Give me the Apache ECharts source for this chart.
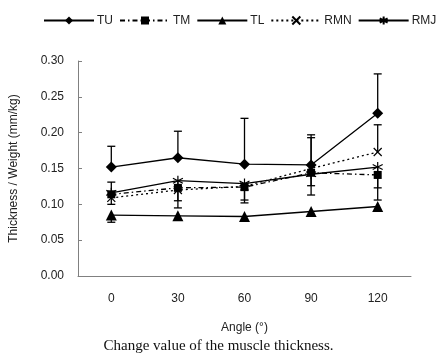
<!DOCTYPE html>
<html>
<head>
<meta charset="utf-8">
<script src="https://cdn.jsdelivr.net/npm/echarts@6/dist/echarts.min.js"></script>
<style>
  html, body { margin: 0; padding: 0; background: #fff; }
  #main { width: 437px; height: 358px; }
</style>
</head>
<body>
<div id="main"></div>
<script>
// 角度分类
var angles = ['0', '30', '60', '90', '120']

// 各肌肉厚度均值
var tuValue = [0.152, 0.165, 0.156, 0.155, 0.227]
var tmValue = [0.114, 0.123, 0.124, 0.144, 0.141]
var tlValue = [0.085, 0.084, 0.083, 0.090, 0.097]
var rmnValue = [0.109, 0.120, 0.125, 0.150, 0.173]
var rmjValue = [0.116, 0.133, 0.129, 0.142, 0.152]

// 误差线端点 (null = 不画)
var tuErrUp = [0.181, 0.202, 0.220, 0.197, 0.282]
var tmErrUp = [0.131, null, null, null, null]
var tmErrDown = [0.100, 0.105, 0.106, 0.113, 0.123]
var rmnErrUp = [null, null, null, 0.193, 0.211]
var rmjErrDown = [null, 0.095, 0.102, 0.126, 0.106]
var tlErrDown = [0.075, null, null, null, null]

var errEnds = []
;[[tuValue, tuErrUp], [tmValue, tmErrUp], [tmValue, tmErrDown], [rmnValue, rmnErrUp], [rmjValue, rmjErrDown], [tlValue, tlErrDown]].forEach(function (pair) {
  for (var i = 0; i < angles.length; i++) {
    if (pair[1][i] != null) errEnds.push([i, pair[0][i], pair[1][i]])
  }
})

var xPath = 'path://M0,0 L10,10 M10,0 L0,10'
var starPath = 'path://M5,0 L5,10 M0,2.5 L10,7.5 M10,2.5 L0,7.5'

var chart = echarts.init(document.getElementById('main'))
var option = {
  animation: false,
  textStyle: { fontFamily: 'Liberation Sans, Arial, sans-serif' },
  legend: {
    left: 38,
    top: 9,
    width: 600,
    itemWidth: 50,
    itemHeight: 10,
    itemGap: 6,
    textStyle: { fontSize: 12, color: '#222', padding: [0, 0, 0, -2] },
    data: ['TU', 'TM', 'TL', 'RMN', 'RMJ'],
  },
  grid: { left: 77, right: 26, top: 61, bottom: 82 },
  xAxis: {
    type: 'category',
    data: angles,
    name: 'Angle (°)',
    nameLocation: 'middle',
    nameGap: 46,
    nameTextStyle: { fontSize: 12, color: '#222' },
    axisLine: { lineStyle: { color: '#808080', width: 1 } },
    axisTick: { inside: true, length: 4, lineStyle: { color: '#808080' } },
    axisLabel: { fontSize: 12, color: '#222', margin: 17 },
  },
  yAxis: {
    type: 'value',
    min: 0,
    max: 0.3,
    interval: 0.05,
    name: 'Thickness / Weight (mm/kg)',
    nameLocation: 'middle',
    nameGap: 58,
    nameTextStyle: { fontSize: 12, color: '#222' },
    axisLine: { show: true, lineStyle: { color: '#808080', width: 1 } },
    axisTick: { show: true, inside: true, length: 4, lineStyle: { color: '#808080' } },
    splitLine: { show: false },
    axisLabel: {
      fontSize: 12,
      color: '#222',
      margin: 14,
      formatter: function (v) { return v.toFixed(2) },
    },
  },
  graphic: [
    {
      type: 'text',
      left: 'center',
      top: 339,
      style: {
        text: 'Change value of the muscle thickness.',
        font: '15px "Liberation Serif", "Times New Roman", serif',
        fill: '#111',
      },
    },
  ],
  series: [
    {
      name: 'TU',
      type: 'line',
      data: tuValue,
      symbol: 'diamond',
      symbolSize: 11,
      lineStyle: { color: '#000', width: 1.3 },
      itemStyle: { color: '#000' },
      z: 3,
    },
    {
      name: 'TM',
      type: 'line',
      data: tmValue,
      symbol: 'rect',
      symbolSize: 8,
      lineStyle: { color: '#000', width: 1.3, type: [5, 3, 1.5, 3] },
      itemStyle: { color: '#000' },
      z: 3,
    },
    {
      name: 'TL',
      type: 'line',
      data: tlValue,
      symbol: 'triangle',
      symbolSize: 11,
      lineStyle: { color: '#000', width: 1.3 },
      itemStyle: { color: '#000' },
      z: 3,
    },
    {
      name: 'RMN',
      type: 'line',
      data: rmnValue,
      symbol: xPath,
      symbolSize: 8,
      lineStyle: { color: '#000', width: 1.3, type: [2, 3] },
      itemStyle: { color: 'none', borderColor: '#000', borderWidth: 1.2 },
      z: 3,
    },
    {
      name: 'RMJ',
      type: 'line',
      data: rmjValue,
      symbol: starPath,
      symbolSize: 10,
      lineStyle: { color: '#000', width: 1.3 },
      itemStyle: { color: 'none', borderColor: '#000', borderWidth: 1.2 },
      z: 3,
    },
    {
      name: 'err',
      type: 'custom',
      data: errEnds,
      z: 2,
      renderItem: function (params, api) {
        var p0 = api.coord([api.value(0), api.value(1)])
        var p1 = api.coord([api.value(0), api.value(2)])
        var style = { stroke: '#000', lineWidth: 1.3 }
        return {
          type: 'group',
          children: [
            { type: 'line', shape: { x1: p0[0], y1: p0[1], x2: p1[0], y2: p1[1] }, style: style },
            { type: 'line', shape: { x1: p1[0] - 4, y1: p1[1], x2: p1[0] + 4, y2: p1[1] }, style: style },
          ],
        }
      },
    },
  ],
}
chart.setOption(option)
</script>
</body>
</html>
